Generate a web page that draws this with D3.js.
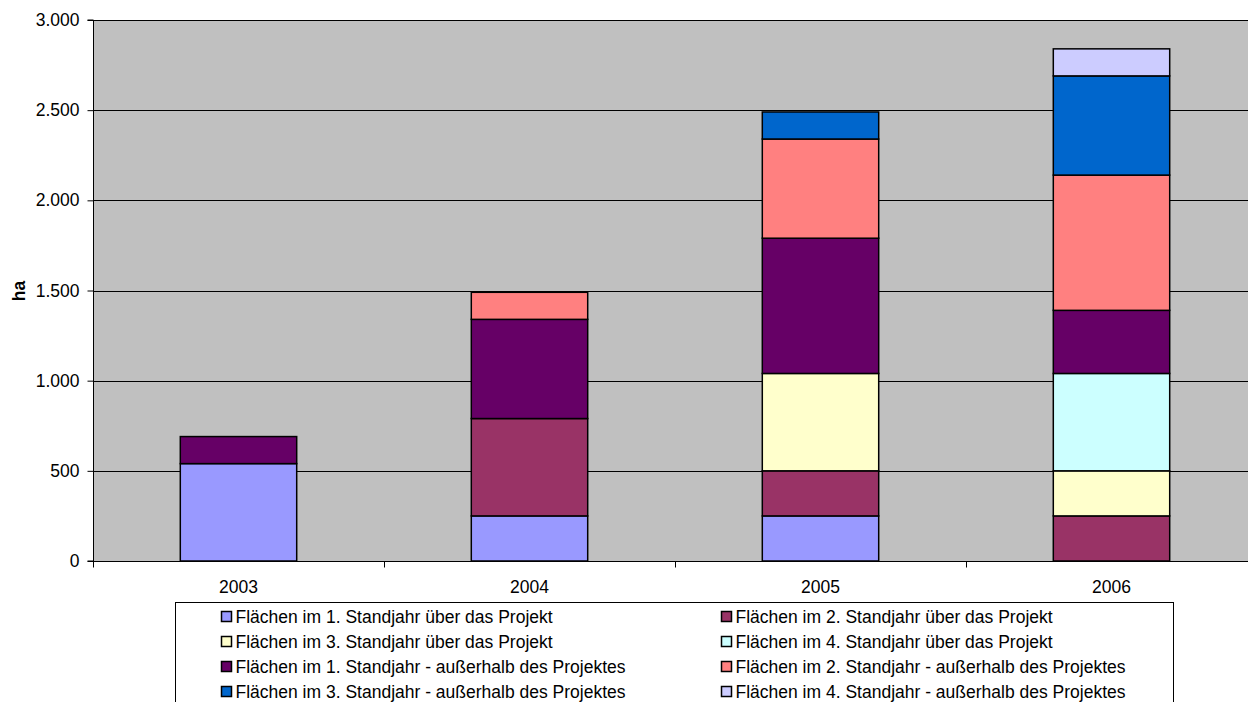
<!DOCTYPE html>
<html><head><meta charset="utf-8">
<script src="https://cdn.jsdelivr.net/npm/d3@7"></script>
<style>body{margin:0;background:#fff;}svg{display:block;font-family:"Liberation Sans",Arial,sans-serif;}</style>
</head><body><svg id="c" width="1248" height="702"></svg>
<script>
const years = ["2003","2004","2005","2006"];
const seriesNames = [
  "Flächen im 1. Standjahr über das Projekt",
  "Flächen im 2. Standjahr über das Projekt",
  "Flächen im 3. Standjahr über das Projekt",
  "Flächen im 4. Standjahr über das Projekt",
  "Flächen im 1. Standjahr - außerhalb des Projektes",
  "Flächen im 2. Standjahr - außerhalb des Projektes",
  "Flächen im 3. Standjahr - außerhalb des Projektes",
  "Flächen im 4. Standjahr - außerhalb des Projektes"
];
const s1 = [540, 250, 250, 0];
const s2 = [0, 540, 250, 250];
const s3 = [0, 0, 540, 250];
const s4 = [0, 0, 0, 540];
const s5 = [150, 550, 750, 350];
const s6 = [0, 150, 550, 750];
const s7 = [0, 0, 150, 550];
const s8 = [0, 0, 0, 150];
const colors = ["#9999FF","#993366","#FFFFCC","#CCFFFF","#660066","#FF8080","#0066CC","#CCCCFF"];
const yTicks = [0,500,1000,1500,2000,2500,3000];
const yLabel = "ha";

const FS = 17.5;
const allSeries = [s1,s2,s3,s4,s5,s6,s7,s8];
const rows = years.map((y,i)=>{const r={year:y}; allSeries.forEach((s,k)=>r["s"+k]=s[i]); return r;});
const keys = allSeries.map((s,k)=>"s"+k);
const stack = d3.stack().keys(keys)(rows);

const svg = d3.select("#c");
const L=93, T=20, B=561, R=93+4*291;
const x = d3.scaleBand().domain(years).range([L,R]).paddingInner(0.6).paddingOuter(0.3);
const xOuter = d3.scaleBand().domain(years).range([L,R]);
const y = d3.scaleLinear().domain([0,3000]).range([B,T]);

svg.append("rect").attr("x",L).attr("y",T).attr("width",R-L).attr("height",B-T).attr("fill","#C0C0C0");
svg.append("g").selectAll("line").data(yTicks.filter(d=>d>0)).join("line")
  .attr("x1",L).attr("x2",R).attr("y1",d=>Math.round(y(d))+0.5).attr("y2",d=>Math.round(y(d))+0.5)
  .attr("stroke","#000").attr("stroke-width",1);

const g = svg.append("g");
stack.forEach((layer,k)=>{
  g.append("g").selectAll("rect").data(layer.filter(d=>d[1]-d[0]>0)).join("rect")
    .attr("x",d=>x(d.data.year)).attr("width",x.bandwidth())
    .attr("y",d=>y(d[1])).attr("height",d=>y(d[0])-y(d[1]))
    .attr("fill",colors[k]).attr("stroke","#000").attr("stroke-width",1.5);
});

// y axis
const ya = svg.append("g").attr("transform",`translate(${L+0.5},0)`)
  .call(d3.axisLeft(y).tickValues(yTicks).tickSize(6).tickPadding(8)
    .tickFormat(d=>d3.format(",")(d).replace(/,/g,".")));
ya.select(".domain").attr("stroke","#000").attr("d",`M-6,${T}H0V${B}H-6`);
ya.selectAll("text").attr("font-size",FS).attr("font-family","Liberation Sans, Arial, sans-serif").attr("fill","#000");
ya.selectAll("line").attr("stroke","#000");

// x axis
const xa = svg.append("g").attr("transform",`translate(0,${B+0.5})`);
xa.append("line").attr("x1",L).attr("x2",R).attr("stroke","#000");
xa.selectAll(".tk").data(years.concat(["end"])).join("line").attr("class","tk")
  .attr("x1",(d,i)=>Math.round(L+i*xOuter.step())+0.5).attr("x2",(d,i)=>Math.round(L+i*xOuter.step())+0.5)
  .attr("y1",0).attr("y2",6).attr("stroke","#000");
xa.selectAll("text").data(years).join("text")
  .attr("x",d=>xOuter(d)+xOuter.bandwidth()/2).attr("y",31)
  .attr("text-anchor","middle").attr("font-size",FS).text(d=>d);

svg.append("text").attr("transform","translate(25,291) rotate(-90)")
  .attr("text-anchor","middle").attr("font-size",FS).attr("font-weight","bold").text(yLabel);

// legend
const lg = svg.append("g");
lg.append("rect").attr("x",175.5).attr("y",602.5).attr("width",998).attr("height",130)
  .attr("fill","#fff").attr("stroke","#000");
seriesNames.forEach((n,k)=>{
  const col=k%2, row=Math.floor(k/2);
  const sx = col===0?221:721, cy = 616.5+row*25;
  lg.append("rect").attr("x",sx+0.5).attr("y",cy-5).attr("width",10).attr("height",10)
    .attr("fill",colors[k]).attr("stroke","#000").attr("stroke-width",1.5);
  lg.append("text").attr("x",sx+14.5).attr("y",cy+6.3).attr("font-size",FS).text(n);
});
</script></body></html>
